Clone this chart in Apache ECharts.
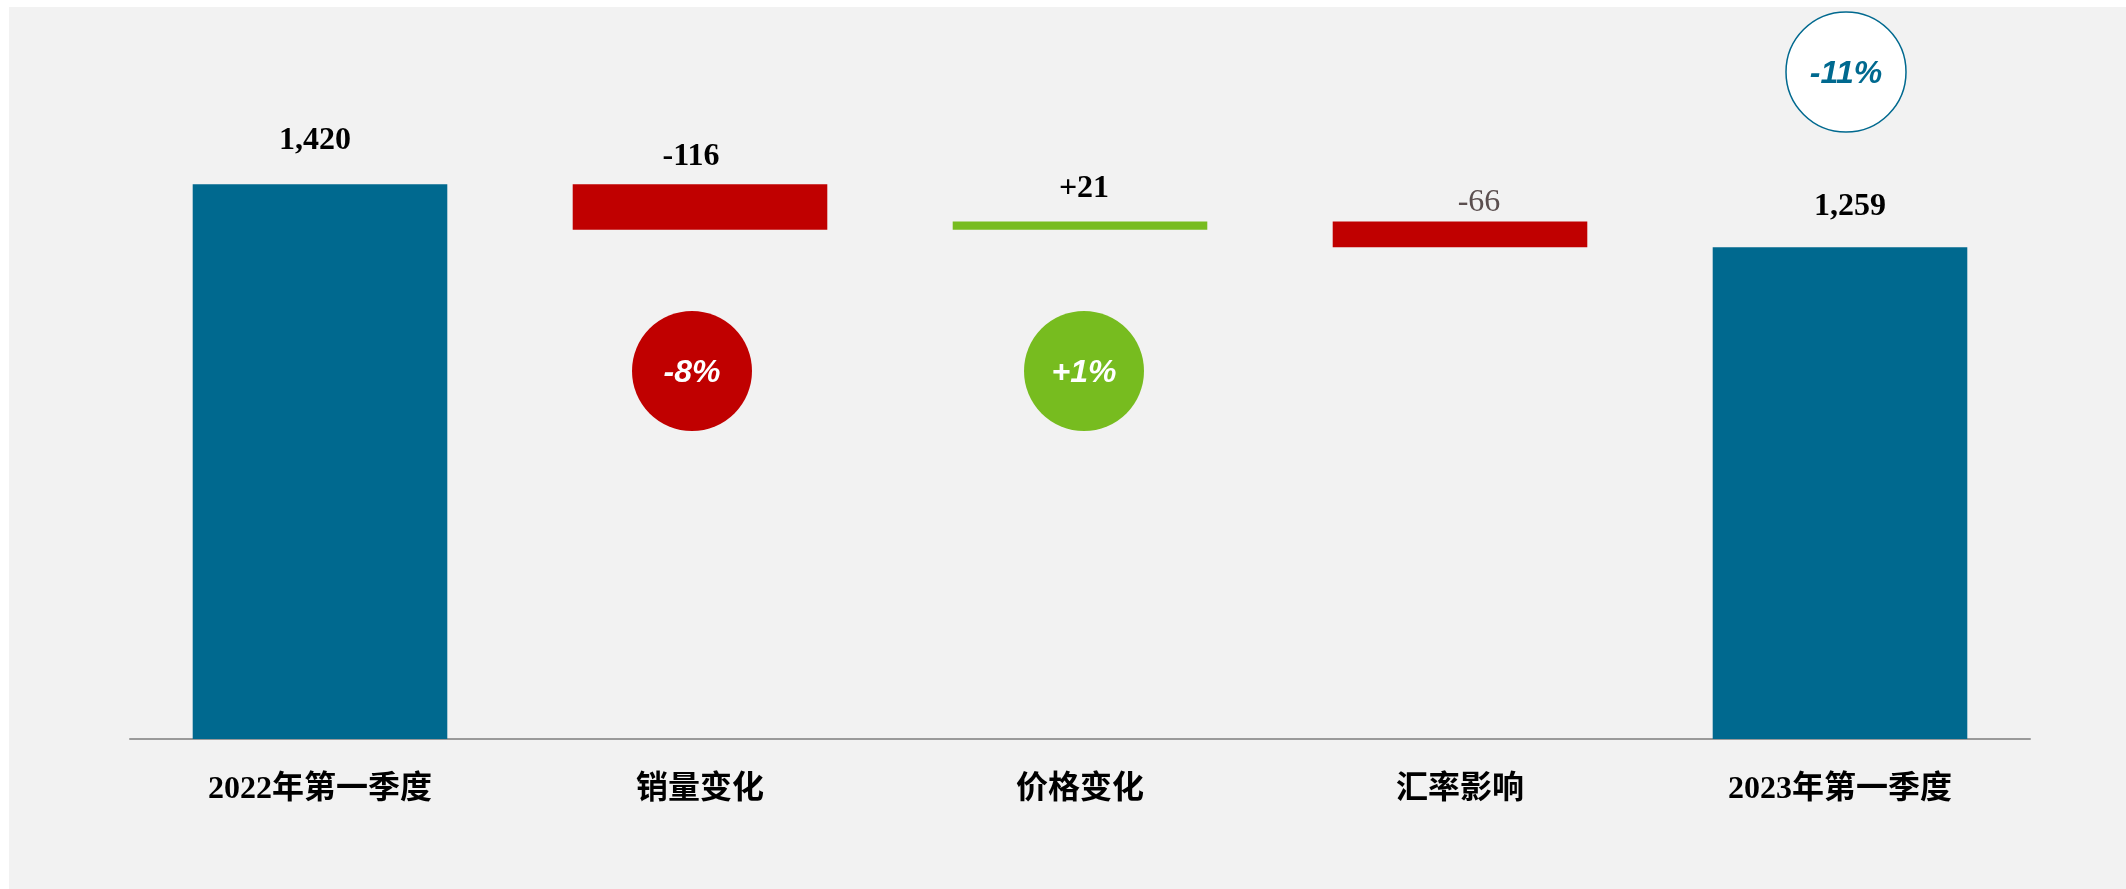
<!DOCTYPE html>
<html>
<head>
<meta charset="utf-8">
<script src="https://cdn.jsdelivr.net/npm/echarts@6/dist/echarts.min.js"></script>
<style>
  html, body { margin: 0; padding: 0; background: #ffffff; width: 2126px; height: 889px; overflow: hidden; }
  #chart { position: absolute; left: 9px; top: 7px; width: 2117px; height: 882px; background: #f2f2f2; }
</style>
</head>
<body>
<div id="chart"></div>
<script>
// Revenue bridge: 2022 Q1 -> 2023 Q1
const categories = ['2022年第一季度', '销量变化', '价格变化', '汇率影响', '2023年第一季度'];
const startValue = 1420;
const changes = [-116, 21, -66];
const endValue = 1259;

const COLOR_TOTAL = '#00698F';
const COLOR_DOWN = '#C00000';
const COLOR_UP = '#77BC1F';

// running totals give the invisible base of each floating bar
const baseValues = [0];
const barValues = [startValue];
const barColors = [COLOR_TOTAL];
let running = startValue;
changes.forEach(function (c) {
  const next = running + c;
  baseValues.push(Math.min(running, next));
  barValues.push(Math.abs(c));
  barColors.push(c < 0 ? COLOR_DOWN : COLOR_UP);
  running = next;
});
baseValues.push(0);
barValues.push(endValue);
barColors.push(COLOR_TOTAL);

const labelTexts = [startValue, ...changes, endValue].map(function (v, i) {
  const s = Math.abs(v).toLocaleString('en-US');
  if (i === 0 || i === categories.length - 1) return s;
  return (v < 0 ? '-' : '+') + s;
});
const labelDistances = [28, 12, 17, 3, 24];
const labelShiftX = [-5, -9, 4, 19, 10];
const labelBold = [true, true, true, false, true];

// percentage change relative to the starting quarter
function pct(v) {
  const p = Math.round(v / startValue * 100);
  return (p > 0 ? '+' : '') + p + '%';
}
const bubbles = [
  { index: 1, text: pct(changes[0]), fill: COLOR_DOWN, stroke: null, textColor: '#ffffff', dx: -8, y: 364 },
  { index: 2, text: pct(changes[1]), fill: COLOR_UP, stroke: null, textColor: '#ffffff', dx: 4, y: 364 },
  { index: 4, text: pct(endValue - startValue), fill: '#ffffff', stroke: COLOR_TOTAL, textColor: COLOR_TOTAL, dx: 6, y: 65 }
];

const chart = echarts.init(document.getElementById('chart'), null, { renderer: 'canvas' });

const option = {
  backgroundColor: '#f2f2f2',
  animation: false,
  grid: { left: 121, right: 96, top: 107, bottom: 150 },
  xAxis: {
    type: 'category',
    data: categories,
    axisLine: { show: true, lineStyle: { color: '#9a9a9a', width: 2 } },
    axisTick: { show: false },
    axisLabel: {
      margin: 35,
      color: '#000000',
      fontSize: 32,
      fontWeight: 'bold',
      fontFamily: '"Liberation Serif", "Noto Sans CJK SC", serif'
    }
  },
  yAxis: {
    type: 'value',
    min: 0,
    max: 1600,
    show: false,
    splitLine: { show: false }
  },
  series: [
    {
      type: 'bar',
      stack: 'bridge',
      data: baseValues,
      itemStyle: { color: 'transparent' },
      barWidth: '67%',
      silent: true
    },
    {
      type: 'bar',
      stack: 'bridge',
      barWidth: '67%',
      data: barValues.map(function (v, i) {
        return {
          value: v,
          itemStyle: { color: barColors[i] },
          label: {
            show: true,
            position: 'top',
            distance: labelDistances[i],
            offset: [labelShiftX[i], 0],
            formatter: labelTexts[i],
            fontSize: 32,
            fontWeight: labelBold[i] ? 'bold' : 'normal',
            color: labelBold[i] ? '#000000' : '#5B4F4F',
            fontFamily: '"Liberation Serif", serif'
          }
        };
      })
    }
  ]
};

chart.setOption(option);

const graphics = bubbles.map(function (b) {
  const x = chart.convertToPixel({ xAxisIndex: 0 }, categories[b.index]) + b.dx;
  return {
    type: 'group',
    x: x,
    y: b.y,
    children: [
      {
        type: 'circle',
        shape: { cx: 0, cy: 0, r: 60 },
        style: { fill: b.fill, stroke: b.stroke || null, lineWidth: b.stroke ? 1.5 : 0 }
      },
      {
        type: 'text',
        x: 0,
        y: 2,
        style: {
          text: b.text,
          fill: b.textColor,
          font: 'italic bold 32px "Liberation Sans", Arial, sans-serif',
          align: 'center',
          verticalAlign: 'middle'
        }
      }
    ]
  };
});

chart.setOption({ graphic: graphics });
</script>
</body>
</html>
